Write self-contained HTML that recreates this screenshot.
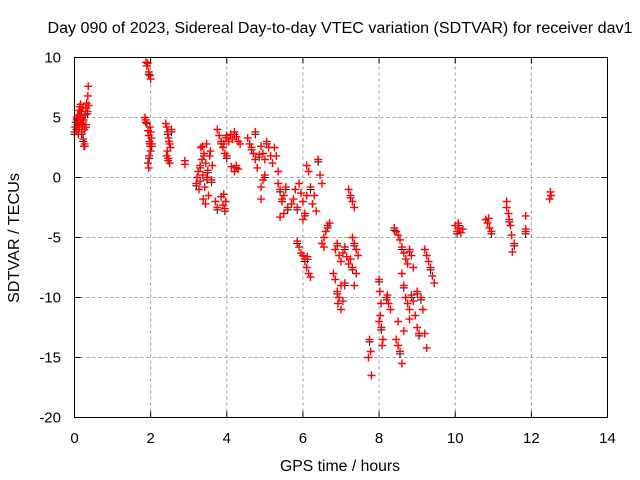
<!DOCTYPE html>
<html><head><meta charset="utf-8"><style>
body{margin:0;background:#fff}
svg{display:block;font-family:"Liberation Sans",sans-serif}
</style></head><body>
<svg id="chart" width="640" height="480" xmlns="http://www.w3.org/2000/svg">
<text x="340" y="33" text-anchor="middle" font-size="15.5" textLength="585" lengthAdjust="spacingAndGlyphs">Day 090 of 2023, Sidereal Day-to-day VTEC variation (SDTVAR) for receiver dav1</text>
<text x="340" y="471" text-anchor="middle" font-size="15.5" textLength="120" lengthAdjust="spacingAndGlyphs">GPS time / hours</text>
<text transform="translate(19,238) rotate(-90)" text-anchor="middle" font-size="15.5" textLength="130" lengthAdjust="spacingAndGlyphs">SDTVAR / TECUs</text>
<g id="grid"></g>
<g id="ticks"></g>
<g id="marks"></g>
<rect x="74.5" y="57.5" width="533" height="360" fill="none" stroke="#000" stroke-width="1"/>
</svg>
<script>
const xTicks=[0,2,4,6,8,10,12,14];
const yTicks=[10,5,0,-5,-10,-15,-20];
const pts=[[0.0,3.8],[0.02,4.2],[0.03,4.6],[0.05,4.0],[0.06,5.0],[0.08,4.4],[0.09,5.2],[0.1,3.6],[0.11,4.8],[0.12,5.6],[0.13,4.2],[0.14,5.9],[0.15,5.2],[0.16,6.1],[0.17,4.5],[0.18,5.5],[0.19,3.8],[0.2,5.0],[0.21,4.4],[0.22,5.8],[0.23,3.2],[0.24,4.8],[0.25,2.6],[0.26,4.0],[0.27,2.8],[0.28,5.2],[0.3,5.8],[0.32,6.2],[0.34,5.5],[0.35,6.8],[0.36,7.6],[0.37,6.0],[0.3,4.4],
[1.88,9.6],[1.9,9.3],[1.92,9.5],[1.95,8.8],[1.98,8.5],[2.0,8.2],[1.85,5.0],[1.87,4.8],[1.9,4.5],[1.93,3.9],[1.95,3.5],[1.97,3.0],[1.99,2.6],[2.0,2.2],[2.02,3.3],[1.96,1.8],[1.93,1.2],[1.95,0.8],[2.0,3.8],[2.03,2.8],[1.98,4.2],
[2.4,4.5],[2.42,4.2],[2.45,3.8],[2.47,3.3],[2.5,2.8],[2.44,2.2],[2.46,1.6],[2.5,1.2],[2.52,2.5],[2.48,3.0],[2.55,4.0],[2.42,1.8],[2.9,1.4],[2.9,1.1],
[3.2,-0.5],[3.22,0.0],[3.25,0.5],[3.27,-1.0],[3.3,1.0],[3.32,2.5],[3.35,1.5],[3.37,0.2],[3.4,2.0],[3.42,-0.8],[3.45,1.2],[3.47,2.8],[3.5,0.6],[3.52,-1.5],[3.55,1.8],[3.57,2.2],[3.6,-0.2],[3.62,1.0],[3.38,-1.8],[3.44,-2.2],[3.48,0.0],[3.3,-0.3],[3.36,2.6],
[3.7,-2.0],[3.75,-2.5],[3.85,-1.6],[3.9,-2.3],[3.92,-1.4],[3.95,-2.6],[3.97,-2.0],
[3.75,4.0],[3.8,3.5],[3.85,3.0],[3.9,2.5],[3.95,2.0],[3.98,3.3],[4.0,3.5],[4.05,3.0],[4.1,3.6],[4.15,3.2],[4.2,3.8],[4.25,3.4],[4.3,3.0],[4.35,2.8],[4.0,1.8],[3.92,2.8],[4.12,0.9],[4.2,0.5],[4.25,1.0],[4.3,0.7],
[4.55,3.3],[4.6,2.8],[4.65,2.5],[4.7,2.0],[4.75,1.5],[4.8,0.8],[4.85,1.9],[4.9,2.6],[4.95,2.0],[5.0,1.5],[5.05,3.0],[5.1,2.5],[5.15,1.8],[5.2,1.2],[4.75,3.8],[4.9,-0.8],[4.95,-0.2],[4.9,-1.8],[5.0,0.2],
[5.25,2.5],[5.3,1.8],[5.35,0.5],[5.4,-1.0],[5.45,-2.0],[5.5,-3.0],[5.4,-3.3],[5.55,-0.8],[5.5,-1.5],[5.35,-0.5],[5.45,-1.8],[5.6,-2.5],
[5.7,-2.2],[5.75,-1.8],[5.8,-1.0],[5.85,-2.5],[5.9,-0.5],[5.95,-1.3],[6.0,-2.0],[6.05,-3.0],[6.0,-3.5],[6.1,-1.5],[6.15,0.5],[6.2,-0.8],[6.25,-2.2],[6.3,-1.5],[6.35,-2.8],[6.4,1.5],[6.45,0.2],[6.5,-0.5],[6.1,1.0],
[5.85,-5.3],[5.9,-5.8],[5.95,-6.3],[6.0,-6.5],[6.05,-6.8],[6.1,-7.5],[6.15,-8.0],[6.2,-8.3],[6.12,-6.6],
[6.5,-5.5],[6.55,-5.0],[6.6,-4.5],[6.65,-4.0],[6.7,-3.8],[6.55,-5.8],
[6.85,-6.0],[6.9,-5.5],[6.95,-6.5],[7.0,-7.0],[7.05,-6.3],[7.1,-5.8],[7.15,-6.6],[6.8,-8.0],[6.85,-8.5],[6.9,-9.5],[6.95,-10.0],[7.0,-9.0],[7.05,-10.3],[7.1,-8.8],[7.0,-11.0],[6.92,-10.5],
[7.2,-1.0],[7.25,-1.5],[7.3,-2.0],[7.35,-2.5],[7.3,-5.0],[7.35,-5.5],[7.4,-6.0],[7.45,-6.5],[7.25,-6.8],[7.3,-7.5],[7.4,-8.0],[7.35,-9.0],[7.2,-7.2],
[7.75,-13.5],[7.78,-14.5],[7.72,-15.0],[7.8,-16.5],[8.0,-8.5],[8.02,-9.5],[8.05,-10.5],[8.03,-11.5],[8.06,-12.5],[8.1,-13.5],[8.08,-14.0],[8.0,-12.0],[8.2,-10.0],[8.25,-10.5],[8.3,-11.0],[8.22,-9.8],
[8.4,-4.2],[8.45,-4.5],[8.5,-4.8],[8.55,-5.2],[8.6,-5.8],[8.65,-6.3],[8.7,-6.8],[8.75,-7.2],[8.8,-6.0],[8.85,-6.5],[8.9,-7.5],[8.6,-8.0],[8.65,-9.0],[8.7,-10.0],[8.75,-10.5],[8.8,-11.0],[8.85,-9.8],[8.9,-10.3],[8.95,-11.5],[9.0,-12.5],[9.05,-13.0],[8.5,-12.0],[8.45,-13.5],[8.5,-14.0],[8.55,-14.5],[8.6,-15.5],[8.65,-12.8],[8.8,-11.8],[9.1,-10.0],[9.15,-11.0],[9.2,-13.0],[9.25,-14.2],[9.0,-9.5],
[9.2,-6.0],[9.25,-6.5],[9.3,-7.0],[9.35,-7.5],[9.4,-8.2],[9.45,-8.8],
[10.0,-4.0],[10.05,-4.5],[10.1,-4.2],[10.15,-4.6],[10.2,-4.3],[10.08,-3.8],
[10.8,-3.5],[10.85,-3.8],[10.9,-4.2],[10.95,-4.5],[10.88,-3.4],
[11.35,-2.0],[11.4,-3.0],[11.42,-3.5],[11.45,-4.0],[11.48,-4.8],[11.5,-6.2],[11.55,-5.5],[11.35,-2.5],
[11.85,-3.2],[11.85,-4.3],[11.85,-4.5],[12.5,-1.2],[12.52,-1.5],[12.48,-1.8]];
const X0=74.5,X1=607.5,Y0=417.5,Y1=57.5;
function sx(t){return X0+(t-0)/(14-0)*(X1-X0);}
function sy(v){return Y0-(v+20)/(30)*(Y0-Y1);}
const NS='http://www.w3.org/2000/svg';
function mk(tag,attrs,parent){const e=document.createElementNS(NS,tag);for(const k in attrs)e.setAttribute(k,attrs[k]);parent.appendChild(e);return e;}
const grid=document.getElementById('grid'),ticks=document.getElementById('ticks'),marks=document.getElementById('marks');
xTicks.forEach(t=>{const x=sx(t);
 if(t>0&&t<14){const g=mk('line',{x1:x,x2:x,y1:Y0,y2:Y1,stroke:'#999','stroke-dasharray':'3,3'},grid);
 
 }
 mk('line',{x1:x,x2:x,y1:Y0,y2:Y0-6,stroke:'#000'},ticks);mk('line',{x1:x,x2:x,y1:Y1,y2:Y1+6,stroke:'#000'},ticks);
 const l=mk('text',{x:x,y:443,'text-anchor':'middle','font-size':'15'},ticks);l.textContent=t;
 
 });
yTicks.forEach(v=>{const y=sy(v);
 if(v>-20&&v<10){const g=mk('line',{x1:X0,x2:X1,y1:y,y2:y,stroke:'#999','stroke-dasharray':'3,3'},grid);
 
 }
 mk('line',{x1:X0,x2:X0+6,y1:y,y2:y,stroke:'#000'},ticks);mk('line',{x1:X1,x2:X1-6,y1:y,y2:y,stroke:'#000'},ticks);
 const l=mk('text',{x:61,y:y+5,'text-anchor':'end','font-size':'15'},ticks);l.textContent=v;
 
 });
function plus(x,y,c,w){const p=mk('path',{d:`M${x-4},${y}h8M${x},${y-4}v8`,stroke:c,'stroke-width':w,fill:'none'},marks);return p;}
pts.forEach((p,i)=>{if(i%4!==0)return;const b=plus(sx(p[0]),sy(p[1]-0.2),'#000',1);
 
 });
pts.forEach(p=>{const r=plus(sx(p[0]),sy(p[1]),'#f00',1.4);
 
 });
</script>
</body></html>
